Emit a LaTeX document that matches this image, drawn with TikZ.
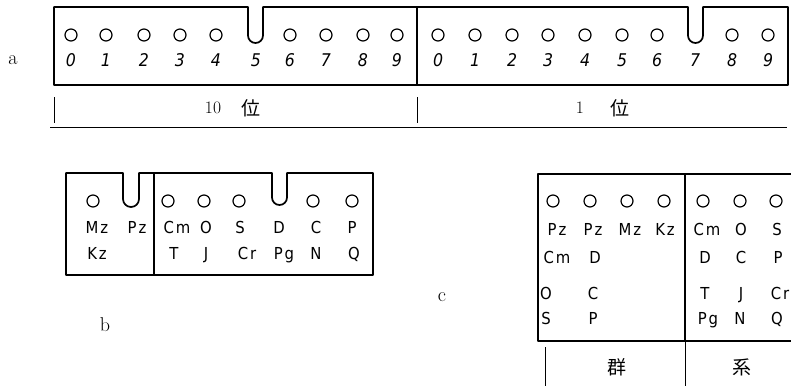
\documentclass[tikz,border=0pt]{standalone}
\usepackage{fontspec}
\newfontfamily\lab[LetterSpace=12]{DejaVu Sans Condensed}
\newfontfamily\labit{DejaVu Sans Condensed Oblique}
\newfontfamily\cjk{Noto Sans CJK JP}
\begin{document}
\begin{tikzpicture}[x=1pt,y=-1pt,
  hole/.style={circle,draw,inner sep=0pt,minimum size=12pt,line width=1.2pt},
  lbl/.style={inner sep=0pt,anchor=base,yshift=-6pt,font=\fontsize{16.5}{16.5}\selectfont\lab},
  dig/.style={inner sep=0pt,anchor=base,yshift=-6.4pt,font=\fontsize{17.5}{17.5}\selectfont\labit},
  part/.style={inner sep=0pt,anchor=center,font=\fontsize{20}{20}\selectfont},
  place/.style={inner sep=0pt,anchor=center,font=\fontsize{17.5}{17.5}\selectfont},
  han/.style={inner sep=0pt,anchor=center,font=\fontsize{19}{19}\selectfont\cjk},
  boxline/.style={line width=1.7pt,line join=round},
  thin/.style={line width=1pt}]
\useasboundingbox (0,0) rectangle (791,386);

% ---------- a ----------
\node[part] (la) at (13,60) {a};
\draw[boxline] (54,7) -- (248,7) -- (248,35.5) arc[start angle=180,end angle=0,radius=7.5]
  -- (263,7) -- (688,7) -- (688,35.5) arc[start angle=180,end angle=0,radius=7.5]
  -- (703,7) -- (788,7) -- (788,85) -- (54,85) -- cycle;
\draw[boxline] (417,7) -- (417,85);
\foreach \x/\n in {71/0,106/1,144/2,180/3,216/4,290/6,326/7,363/8,397/9}
  \node[hole] (ah\n) at (\x,35) {};
\foreach \x/\n in {71/0,106/1,144/2,180/3,216/4,256/5,290/6,326/7,363/8,397/9}
  \node[dig] (ad\n) at (\x,60) {\n};
\foreach \x/\n in {438/0,475/1,512/2,548/3,585/4,622/5,657/6,732/8,768/9}
  \node[hole] (bh\n) at (\x,35) {};
\foreach \x/\n in {438/0,475/1,512/2,548/3,585/4,622/5,657/6,695/7,732/8,768/9}
  \node[dig] (bd\n) at (\x,60) {\n};
\draw[thin] (54,97) -- (54,123);
\draw[thin] (417,97) -- (417,123);
\draw[thin] (50,127) -- (787,127);
\node[place] (ten) at (213,108) {10};
\node[han] (tenw) at (251,108) {位};
\node[place] (one) at (580,108) {1};
\node[han] (onew) at (620,108) {位};

% ---------- b ----------
\node[part] (lb) at (105,325) {b};
\draw[boxline] (66,173) -- (123,173) -- (123,199) arc[start angle=180,end angle=0,radius=8]
  -- (139,173) -- (272,173) -- (272,197.5) arc[start angle=180,end angle=0,radius=7.5]
  -- (287,173) -- (373,173) -- (373,275) -- (66,275) -- cycle;
\draw[boxline] (154,173) -- (154,275);
\foreach \x/\n in {93/1,168/2,204/3,239/4,313/5,352/6}
  \node[hole] (ch\n) at (\x,201) {};
\foreach \x/\t/\n in {97/Mz/1,137/Pz/2,177/Cm/3,206/O/4,240/S/5,279/D/6,316/C/7,352/P/8}
  \node[lbl] (cr\n) at (\x,227) {\t};
\foreach \x/\t/\n in {97/Kz/1,174/T/2,206/J/3,247/Cr/4,284/Pg/5,316/N/6,354/Q/7}
  \node[lbl] (cs\n) at (\x,253) {\t};

% ---------- c ----------
\node[part] (lc) at (442,297) {c};
\draw[boxline] (791,174) -- (538,174) -- (538,341) -- (791,341);
\draw[boxline] (685,174) -- (685,341);
\foreach \x/\n in {553/1,590/2,627/3,664/4,703/5,740/6,776/7}
  \node[hole] (dh\n) at (\x,201) {};
\foreach \x/\t/\n in {557/Pz/1,593/Pz/2,630/Mz/3,665/Kz/4,707/Cm/5,741/O/6,777/S/7}
  \node[lbl] (dr\n) at (\x,229) {\t};
\foreach \x/\t/\n in {557/Cm/1,595/D/2,705/D/3,741/C/4,778/P/5}
  \node[lbl] (ds\n) at (\x,257) {\t};
\foreach \x/\t/\n in {546/O/1,593/C/2,705/T/3,741/J/4,780/Cr/5}
  \node[lbl] (dt\n) at (\x,293) {\t};
\foreach \x/\t/\n in {546/S/1,593/P/2,708/Pg/3,740/N/4,777/Q/5}
  \node[lbl] (du\n) at (\x,318) {\t};
\draw[thin] (545,347) -- (545,386);
\draw[thin] (685,341) -- (685,386);
\node[han] (qun) at (617,367) {群};
\node[han] (xi) at (742,367) {系};
\end{tikzpicture}
\end{document}
